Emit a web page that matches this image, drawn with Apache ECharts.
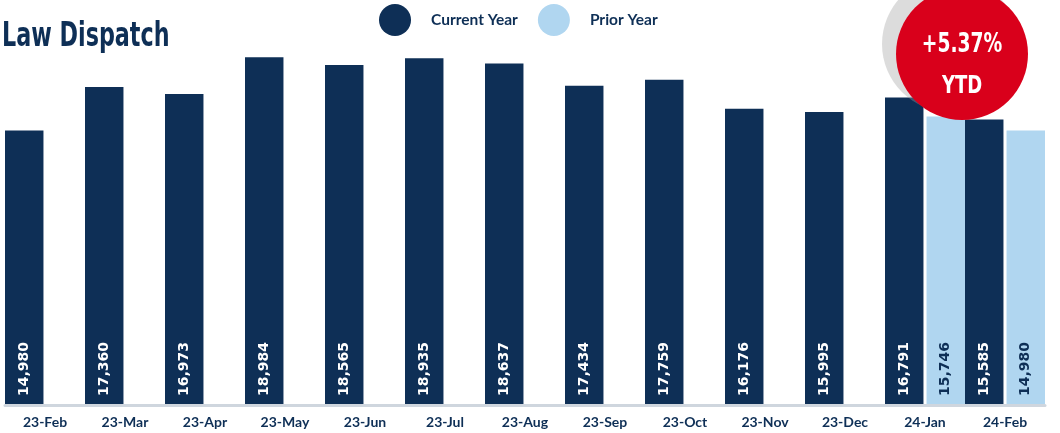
<!DOCTYPE html>
<html>
<head>
<meta charset="utf-8">
<title>Law Dispatch</title>
<script src="https://cdn.jsdelivr.net/npm/echarts@6/dist/echarts.min.js"></script>
<style>
  html, body { margin: 0; padding: 0; background: #ffffff; }
  #chart { width: 1060px; height: 433px; }
</style>
</head>
<body>
<div id="chart"></div>
<script>
// Monthly law dispatch counts
const months = ['23-Feb', '23-Mar', '23-Apr', '23-May', '23-Jun', '23-Jul', '23-Aug',
                '23-Sep', '23-Oct', '23-Nov', '23-Dec', '24-Jan', '24-Feb'];
const currentYear = [14980, 17360, 16973, 18984, 18565, 18935, 18637,
                     17434, 17759, 16176, 15995, 16791, 15585];
const priorYear = [null, null, null, null, null, null, null,
                   null, null, null, null, 15746, 14980];
const ytdText = ['+5.37%', 'YTD'];

const NAVY = '#0e2f56';
const LIGHT = '#b0d6f0';
const RED = '#d9001b';
const COND = '"DejaVu Sans Condensed", "DejaVu Sans", sans-serif';

const fmt = v => (v == null ? '' : Number(v).toLocaleString('en-US'));

const barLabel = color => ({
  show: true,
  position: 'insideBottom',
  rotate: 90,
  align: 'left',
  verticalAlign: 'middle',
  distance: 9,
  color: color,
  fontFamily: '"DejaVu Sans", sans-serif',
  fontWeight: 'bold',
  fontSize: 14,
  formatter: p => fmt(p.value)
});

const chart = echarts.init(document.getElementById('chart'), null, { renderer: 'canvas' });

chart.setOption({
  animation: false,
  legend: {
    left: 379,
    top: 4,
    padding: 0,
    itemWidth: 32,
    itemHeight: 32,
    itemGap: 20,
    icon: 'circle',
    data: ['Current Year', 'Prior Year'],
    textStyle: {
      color: NAVY, fontFamily: 'Lato, sans-serif', fontWeight: 'bold', fontSize: 15.5,
      padding: [0, 0, 0, 15]
    }
  },
  grid: { left: 5, right: 15, top: 2, bottom: 28, containLabel: false },
  xAxis: {
    type: 'category',
    data: months,
    boundaryGap: true,
    axisLine: { show: true, lineStyle: { color: '#cfd6de', width: 3 } },
    axisTick: { show: false },
    axisLabel: {
      color: NAVY, fontFamily: 'Lato, sans-serif', fontWeight: 'bold', fontSize: 14,
      margin: 10, interval: 0
    },
    z: 5
  },
  yAxis: {
    type: 'value',
    min: 0,
    max: 22000,
    show: false,
    splitLine: { show: false }
  },
  series: [
    {
      name: 'Current Year',
      type: 'bar',
      data: currentYear,
      itemStyle: { color: NAVY },
      barGap: '8%',
      barCategoryGap: '0%',
      label: barLabel('#ffffff'),
      z: 2
    },
    {
      name: 'Prior Year',
      type: 'bar',
      data: priorYear,
      itemStyle: { color: LIGHT },
      label: barLabel(NAVY),
      z: 2
    }
  ],
  graphic: [
    {
      // chart title, condensed horizontally
      type: 'text',
      x: 2, y: 37.5,
      scaleX: 0.75,
      style: {
        text: 'Law Dispatch', fill: NAVY, align: 'left', verticalAlign: 'middle',
        font: 'bold 33px ' + COND
      },
      z: 50
    },
    {
      type: 'circle',
      shape: { cx: 950, cy: 44, r: 68 },
      style: { fill: 'rgba(160,160,160,0.37)' },
      z: 100
    },
    {
      type: 'circle',
      shape: { cx: 962, cy: 54, r: 66 },
      style: { fill: RED },
      z: 101
    },
    {
      type: 'text',
      x: 962, y: 45,
      scaleX: 0.8,
      style: {
        text: ytdText[0], fill: '#ffffff', align: 'center', verticalAlign: 'middle',
        font: 'bold 26px ' + COND
      },
      z: 102
    },
    {
      type: 'text',
      x: 962, y: 86,
      scaleX: 0.8,
      style: {
        text: ytdText[1], fill: '#ffffff', align: 'center', verticalAlign: 'middle',
        font: 'bold 25px ' + COND
      },
      z: 102
    }
  ]
});
</script>
</body>
</html>
